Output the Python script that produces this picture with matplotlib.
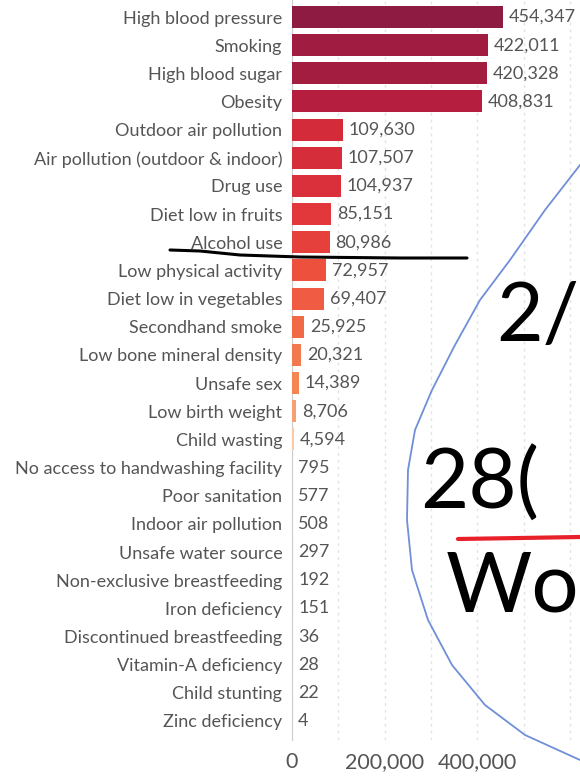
import numpy as np
import matplotlib.pyplot as plt
from matplotlib.lines import Line2D

# risk factors and deaths
factors = ["High blood pressure", "Smoking", "High blood sugar", "Obesity",
           "Outdoor air pollution", "Air pollution (outdoor & indoor)", "Drug use",
           "Diet low in fruits", "Alcohol use", "Low physical activity",
           "Diet low in vegetables", "Secondhand smoke", "Low bone mineral density",
           "Unsafe sex", "Low birth weight", "Child wasting",
           "No access to handwashing facility", "Poor sanitation",
           "Indoor air pollution", "Unsafe water source",
           "Non-exclusive breastfeeding", "Iron deficiency",
           "Discontinued breastfeeding", "Vitamin-A deficiency",
           "Child stunting", "Zinc deficiency"]
deaths = [454347, 422011, 420328, 408831, 109630, 107507, 104937, 85151, 80986,
          72957, 69407, 25925, 20321, 14389, 8706, 4594, 795, 577, 508, 297,
          192, 151, 36, 28, 22, 4]
colors = ["#8e1c42", "#a01c40", "#a31d40", "#b61e40", "#d42b3b", "#d62d3b",
          "#d9303b", "#e2383b", "#e6403c", "#ed513e", "#ef5b43", "#f06a48",
          "#f2794f", "#f48653", "#f59f72", "#f8c9a8"] + ["#f9d5bc"] * 10
xticks = [0, 200000, 400000]

plt.rcParams['font.family'] = ['Lato', 'DejaVu Sans']
txt = "#555555"

W, H = 580, 776
fig = plt.figure(figsize=(W / 100, H / 100), dpi=100)
px = 0.0004637  # pixels per death
ax = fig.add_axes([292 / W, 1 - 740 / H, 1 - 292 / W, 740 / H])

y = np.arange(len(factors))
ax.barh(y, deaths, height=0.78, color=colors, zorder=3)
for yi, v in zip(y, deaths):
    ax.text(v + 6 / px, yi, f"{v:,}", va="center", ha="left", fontsize=13, color=txt, zorder=4)

row = 28.16
ax.set_ylim((740 - 17) / row, -17 / row)
ax.set_xlim(0, (W - 292) / px)
ax.set_yticks(y)
ax.set_yticklabels(factors, fontsize=13, color=txt)
ax.set_xticks(xticks)
ax.set_xticklabels([f"{t:,}" for t in xticks], fontsize=15.5, color=txt)
ax.tick_params(axis="both", length=0)
ax.tick_params(axis="y", pad=7)
ax.tick_params(axis="x", pad=9)
ax.set_xticks(np.arange(100000, 700000, 100000), minor=True)
ax.tick_params(axis="x", which="minor", length=0)
ax.grid(axis="x", which="both", linestyle=(0, (2, 3)), color="#e2e2e2", lw=1, zorder=0)
for s in ["top", "right", "bottom"]:
    ax.spines[s].set_visible(False)
ax.spines["left"].set_color("#cccccc")

# handwritten marks on the screenshot
def stroke(xs, ys, color, lw):
    fig.add_artist(Line2D(np.array(xs) / W, 1 - np.array(ys) / H, color=color, lw=lw,
                          transform=fig.transFigure, solid_capstyle="round"))

stroke([170, 200, 240, 300, 400, 467], [250, 251, 255, 257, 258, 258], "black", 2.2)
stroke([580, 545, 510, 480, 455, 432, 415, 408, 407, 412, 428, 452, 485, 525, 580],
       [165, 210, 260, 300, 345, 390, 430, 470, 520, 570, 620, 665, 705, 735, 760],
       "#6f8fd8", 1.3)
stroke([458, 520, 580], [539, 538, 537], "#e8202a", 3)
fig.text(496 / W, 1 - 318 / H, "2/", fontsize=58, color="black", va="center", ha="left")
fig.text(420 / W, 1 - 485 / H, "28(", fontsize=60, color="black", va="center", ha="left")
fig.text(446 / W, 1 - 588 / H, "Wo", fontsize=60, color="black", va="center", ha="left")

fig.savefig("out.png", dpi=100, facecolor="white")
